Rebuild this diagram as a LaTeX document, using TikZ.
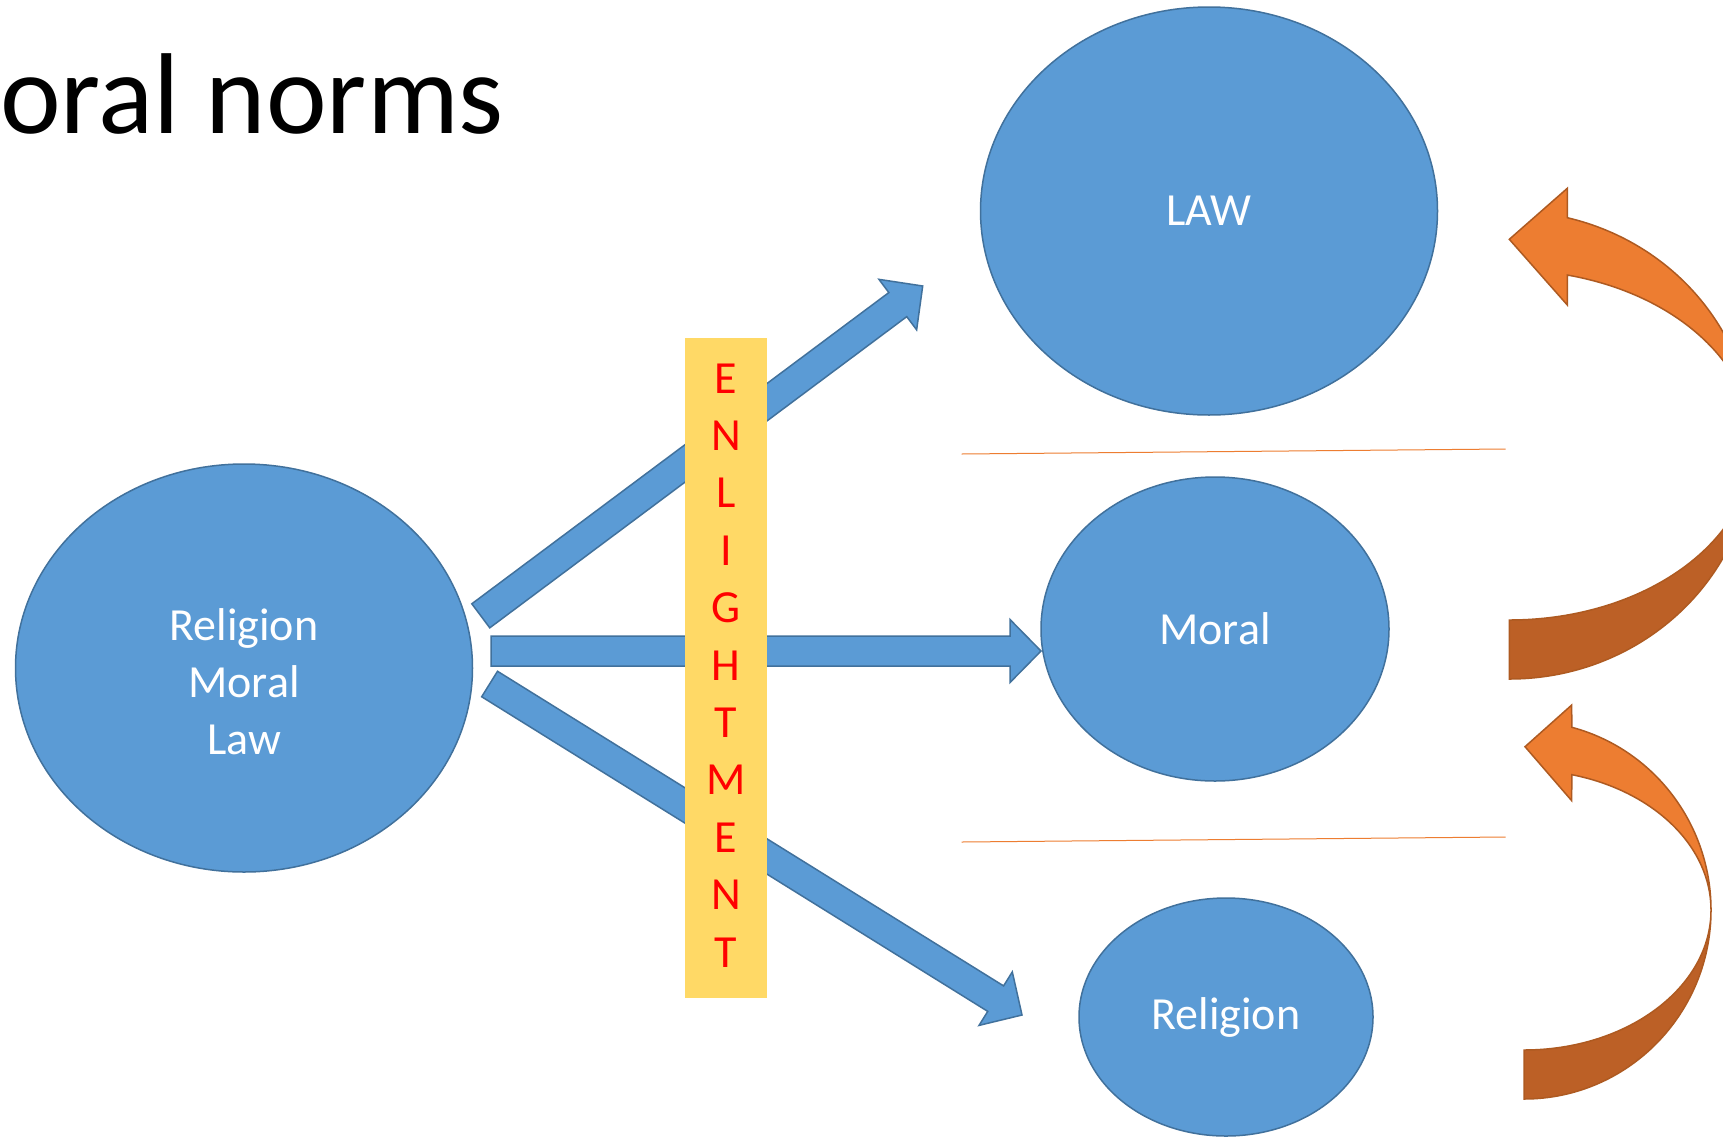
\documentclass[tikz,border=0pt]{standalone}
\usepackage{fontspec}
\setmainfont{Carlito}
\usetikzlibrary{calc,shapes.geometric}
\definecolor{bluefill}{HTML}{5B9BD5}
\definecolor{blueline}{HTML}{41719C}
\definecolor{orangeA}{HTML}{ED7D31}
\definecolor{orangeB}{HTML}{BC6026}
\definecolor{orangeline}{HTML}{AE5A21}
\definecolor{yellowbox}{HTML}{FFD966}
\newcommand\blockarrow[2]{%
  \filldraw[blockarr] let \p1=($(#2)-(#1)$), \n1={veclen(\x1,\y1)}, \n2={atan2(\y1,\x1)} in
    ($(#1)+({\n2+90}:15)$) -- ($(#1)+({\n2}:{\n1-31})+({\n2+90}:15)$)
    -- ($(#1)+({\n2}:{\n1-31})+({\n2+90}:31.5)$) -- (#2)
    -- ($(#1)+({\n2}:{\n1-31})+({\n2-90}:31.5)$) -- ($(#1)+({\n2}:{\n1-31})+({\n2-90}:15)$)
    -- ($(#1)+({\n2-90}:15)$) -- cycle;}
\begin{document}
\begin{tikzpicture}[x=1pt,y=1pt,
  oval/.style={ellipse, fill=bluefill, draw=blueline, line width=1.5pt, inner sep=0},
  ovtext/.style={text=white, font=\fontsize{46}{57}\selectfont, align=center, inner sep=0},
  blockarr/.style={fill=bluefill, draw=blueline, line width=1.5pt, line join=miter},
  sepline/.style={draw=orangeA, line width=1pt},
  lightband/.style={fill=orangeA, draw=orangeline, line width=1.5pt, line join=miter},
  darkband/.style={fill=orangeB, draw=orangeline, line width=1.5pt, line join=miter},
  letter/.style={text=red, font=\fontsize{46}{55}\selectfont, inner sep=0},
  ybox/.style={fill=yellowbox, draw=none}]
\clip (0,0) rectangle (1723,-1138);
\fill[white] (0,0) rectangle (1723,-1138);

% title
\node[anchor=base west, inner sep=0, font=\fontsize{115}{138}\selectfont] (title) at (0,-133) {oral norms};

% ellipses
\node[oval, minimum width=457, minimum height=408] (src) at (244,-668) {};
\node[ovtext] (srctext) at (244,-682) {Religion\\Moral\\Law};
\node[oval, minimum width=457, minimum height=408, ovtext] (law) at (1209,-211) {LAW};
\node[oval, minimum width=348, minimum height=304, ovtext] (moral) at (1215,-629) {Moral};
\node[oval, minimum width=294, minimum height=238, ovtext] (rel) at (1226,-1017) {Religion};

% separator lines
\coordinate (s1a) at (961.5,-454); \coordinate (s1b) at (1505.5,-449);
\coordinate (s2a) at (961.5,-842); \coordinate (s2b) at (1505.5,-837);
\draw[sepline] (s1a) -- (s1b);
\draw[sepline] (s2a) -- (s2b);

% block arrows
\coordinate (a1s) at (480.8,-615.8); \coordinate (a1e) at (922.7,-286);
\coordinate (a2s) at (491,-651);     \coordinate (a2e) at (1041,-651);
\coordinate (a3s) at (489.6,-684);   \coordinate (a3e) at (1022,-1015);
\blockarrow{a1s}{a1e}
\blockarrow{a2s}{a2e}
\blockarrow{a3s}{a3e}

% enlightenment box
\node[ybox, minimum width=82, minimum height=660, inner sep=0] (enl) at (726,-668) {};
\foreach \ch [count=\i] in {E,N,L,I,G,H,T,M,E,N,T}
  \node[letter] (en\i) at (726,{-(378.3+57.4*(\i-1))}) {\ch};

% upper curved arrow
\coordinate (c1) at (1509.3,-445);
\draw[darkband] ($(c1)+(244,0)$) arc[start angle=0, end angle=-90, x radius=244, y radius=234]
  -- ($(c1)+(0,-175)$) arc[start angle=-90, end angle=0, x radius=244, y radius=175] -- cycle;
\draw[lightband] ($(c1)+(76.25:244 and 234)$) arc[start angle=76.25, end angle=0, x radius=244, y radius=234]
  arc[start angle=0, end angle=76.25, x radius=244, y radius=175]
  -- (1567.3,-305) -- (1509.3,-239.3) -- (1567.3,-188.3) -- cycle;

% lower curved arrow
\coordinate (c2) at (1524,-910);
\draw[darkband] ($(c2)+(187,0)$) arc[start angle=0, end angle=-90, x radius=187, y radius=189]
  -- ($(c2)+(0,-140)$) arc[start angle=-90, end angle=0, x radius=187, y radius=140] -- cycle;
\draw[lightband] ($(c2)+(75.2:187 and 189)$) arc[start angle=75.2, end angle=0, x radius=187, y radius=189]
  arc[start angle=0, end angle=75.2, x radius=187, y radius=140]
  -- (1571.7,-800.7) -- (1525,-746.7) -- (1571.7,-705) -- cycle;
\end{tikzpicture}
\end{document}
